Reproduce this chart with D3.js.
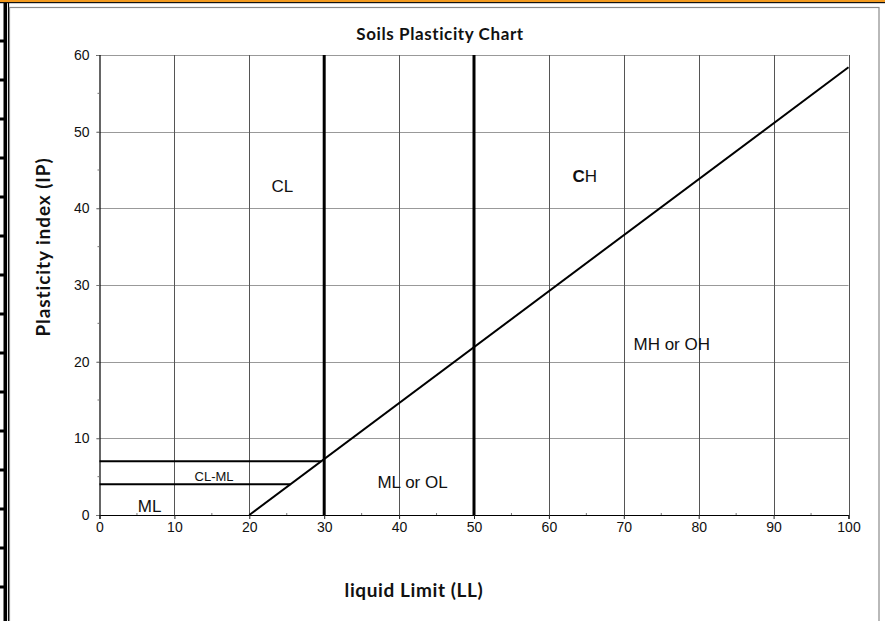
<!DOCTYPE html>
<html>
<head>
<meta charset="utf-8">
<script src="https://cdn.jsdelivr.net/npm/d3@7"></script>
<style>
  html, body { margin: 0; padding: 0; background: #fff; }
  svg { display: block; }
  .tick text { font-family: 'Liberation Sans', Arial, sans-serif; font-size: 14px; fill: #111; }
</style>
</head>
<body>
<svg id="chart" width="885" height="621"></svg>
<script>
// Casagrande plasticity chart data
const xTicks = [0, 10, 20, 30, 40, 50, 60, 70, 80, 90, 100];
const yTicks = [0, 10, 20, 30, 40, 50, 60];
const xMinor = [5, 15, 25, 35, 45, 55, 65, 75, 85, 95];
const yMinor = [5, 15, 25, 35, 45, 55];

// A-line: PI = 0.73 (LL - 20)
const aLine = [[20, 0], [100, 58.4]];
// Liquid-limit boundaries
const llBounds = [30, 50];
// CL-ML band limits (PI = 7 and PI = 4), ending on the A-line
const bandLines = [
  [[0, 7], [29.59, 7]],
  [[0, 4], [25.48, 4]]
];

const zoneNames = ["CL", "CH", "MH or OH", "ML or OL", "CL-ML", "ML"];
const zoneLL    = [24.4, 64.8, 76.4, 41.8, 15.3, 6.7];
const zonePI    = [42.8, 44.2, 22.3, 4.3, 5.0, 1.1];
const zoneSize  = [17, 17, 17, 17, 13, 17];

const svg = d3.select("#chart");
const W = 885, H = 621;

const x = d3.scaleLinear().domain([0, 100]).range([99.5, 848.5]);
const y = d3.scaleLinear().domain([0, 60]).range([515, 55]);

// page decoration: orange rule on top, heavy left border with row marks
svg.append("rect").attr("x", 0).attr("y", 0).attr("width", W).attr("height", 2).attr("fill", "#f39a1e");
svg.append("rect").attr("x", 0).attr("y", 2).attr("width", W).attr("height", 1.2).attr("fill", "#111");
svg.append("rect").attr("x", 3.5).attr("y", 3).attr("width", 3.5).attr("height", H).attr("fill", "#000");
svg.append("line").attr("x1", 8.5).attr("x2", 8.5).attr("y1", 3).attr("y2", H)
  .attr("stroke", "#000").attr("stroke-width", 1.2);
const rowMarks = d3.range(41, H, 39);
svg.append("g").selectAll("rect").data(rowMarks).join("rect")
  .attr("x", 0).attr("y", d => d - 1.5).attr("width", 5).attr("height", 3).attr("fill", "#000");

// chart frame
svg.append("rect").attr("x", 9.5).attr("y", 7.5).attr("width", 869.5).attr("height", H)
  .attr("fill", "#fff").attr("stroke", "#8a8a8a").attr("stroke-width", 1.2);

const g = svg.append("g");

// horizontal gridlines (light grey)
g.append("g").selectAll("line").data(yTicks.filter(d => d > 0)).join("line")
  .attr("x1", x(0) - 3).attr("x2", x(100))
  .attr("y1", d => Math.round(y(d)) + 0.5).attr("y2", d => Math.round(y(d)) + 0.5)
  .attr("stroke", "#999").attr("stroke-width", 1.2);

// vertical gridlines (dark grey)
g.append("g").selectAll("line").data(xTicks.filter(d => d > 0)).join("line")
  .attr("x1", d => Math.round(x(d)) + 0.5).attr("x2", d => Math.round(x(d)) + 0.5)
  .attr("y1", y(60)).attr("y2", y(0))
  .attr("stroke", "#555").attr("stroke-width", 1);

const tickFont = "'Liberation Sans', Arial, sans-serif";

// y axis
const yAxis = d3.axisLeft(y).tickValues(yTicks).tickSize(3).tickPadding(7).tickFormat(d3.format("d"));
const ya = g.append("g").attr("transform", `translate(${x(0)},0)`).call(yAxis);
ya.attr("font-size", null).attr("font-family", null);
ya.select(".domain").attr("stroke", "#000").attr("stroke-width", 1.2);
ya.selectAll(".tick line").attr("stroke", "#777");
g.append("g").selectAll("line").data(yMinor).join("line")
  .attr("x1", x(0) - 2).attr("x2", x(0))
  .attr("y1", d => y(d)).attr("y2", d => y(d))
  .attr("stroke", "#777").attr("stroke-width", 1);

// x axis
const xAxis = d3.axisBottom(x).tickValues(xTicks).tickSize(4).tickPadding(3).tickFormat(d3.format("d"));
const xa = g.append("g").attr("transform", `translate(0,${y(0)})`).call(xAxis);
xa.attr("font-size", null).attr("font-family", null);
xa.select(".domain").attr("stroke", "#000").attr("stroke-width", 1.2);
xa.selectAll(".tick line").attr("stroke", "#222");
g.append("g").selectAll("line").data(xMinor).join("line")
  .attr("x1", d => x(d)).attr("x2", d => x(d))
  .attr("y1", y(0) - 2).attr("y2", y(0))
  .attr("stroke", "#777").attr("stroke-width", 1);

const line = d3.line().x(d => x(d[0])).y(d => y(d[1]));

// CL-ML band lines
g.append("g").selectAll("path").data(bandLines).join("path")
  .attr("d", line).attr("fill", "none").attr("stroke", "#000").attr("stroke-width", 2);

// liquid limit boundaries
g.append("g").selectAll("line").data(llBounds).join("line")
  .attr("x1", d => x(d)).attr("x2", d => x(d))
  .attr("y1", y(60)).attr("y2", y(0))
  .attr("stroke", "#000").attr("stroke-width", 3);

// A-line
g.append("path").attr("d", line(aLine)).attr("fill", "none")
  .attr("stroke", "#000").attr("stroke-width", 2);

// zone labels
const zones = zoneNames.map((n, i) => ({ n, ll: zoneLL[i], pi: zonePI[i], s: zoneSize[i] }));
const zt = g.append("g").selectAll("text").data(zones).join("text")
  .attr("x", d => x(d.ll)).attr("y", d => y(d.pi))
  .attr("text-anchor", "middle").attr("dominant-baseline", "central")
  .attr("font-family", tickFont)
  .attr("font-size", d => d.s).attr("fill", "#111");
zt.each(function(d) {
  const t = d3.select(this);
  if (d.n === "CH") {
    t.append("tspan").attr("font-weight", "bold").text("C");
    t.append("tspan").text("H");
  } else {
    t.text(d.n);
  }
});

// titles
const titleFont = "'Lato', 'DejaVu Sans', sans-serif";
svg.append("text").attr("x", 440).attr("y", 33)
  .attr("text-anchor", "middle").attr("dominant-baseline", "central")
  .attr("font-family", titleFont).attr("font-weight", "bold").attr("font-size", 17)
  .attr("letter-spacing", 0.6)
  .attr("fill", "#111").text("Soils Plasticity Chart");
svg.append("text").attr("transform", "translate(42,247) rotate(-90)")
  .attr("text-anchor", "middle").attr("dominant-baseline", "central")
  .attr("font-family", titleFont).attr("font-weight", "bold").attr("font-size", 19)
  .attr("letter-spacing", 0.9)
  .attr("fill", "#111").text("Plasticity index (IP)");
svg.append("text").attr("x", 414).attr("y", 589)
  .attr("text-anchor", "middle").attr("dominant-baseline", "central")
  .attr("font-family", titleFont).attr("font-weight", "bold").attr("font-size", 19)
  .attr("letter-spacing", 0.6)
  .attr("fill", "#111").text("liquid Limit (LL)");
</script>
</body>
</html>
